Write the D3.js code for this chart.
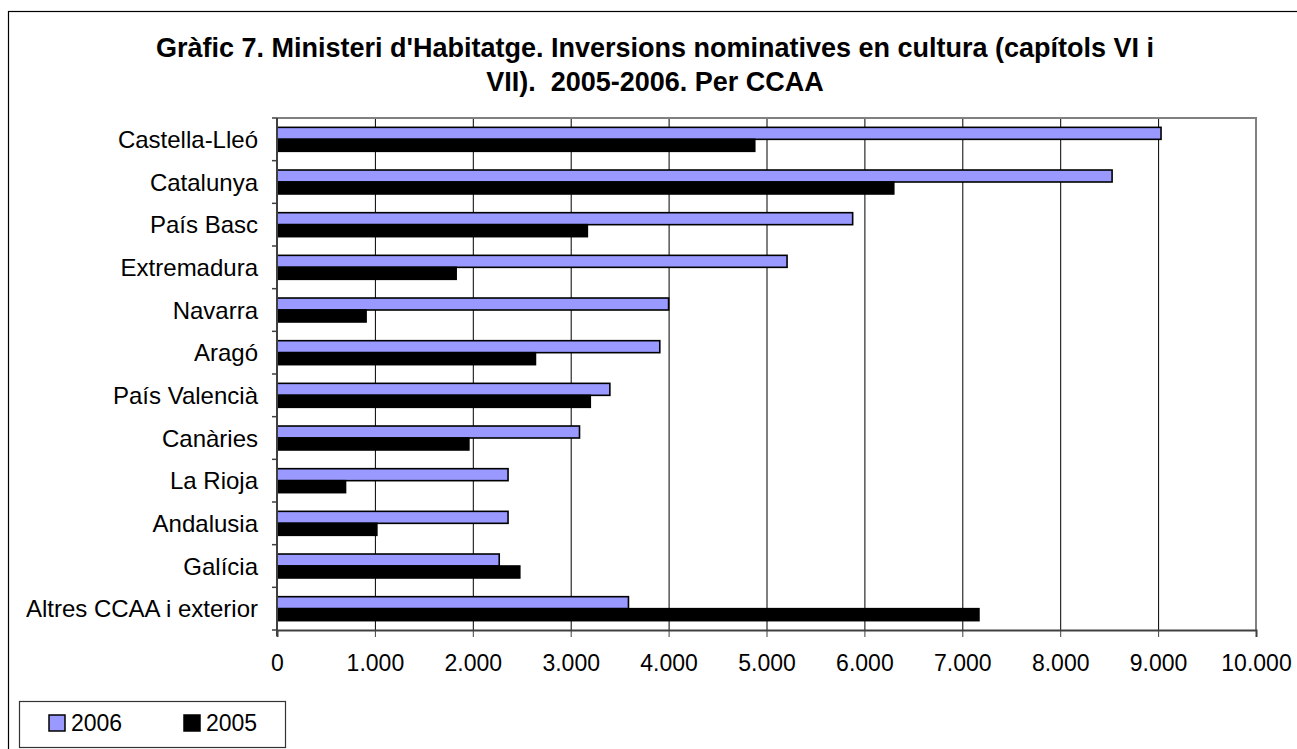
<!DOCTYPE html>
<html>
<head>
<meta charset="utf-8">
<script src="https://cdn.jsdelivr.net/npm/d3@7"></script>
<style>
  html, body { margin: 0; padding: 0; background: #fff; }
  svg { display: block; }
  text { font-family: "Liberation Sans", Arial, sans-serif; fill: #000; }
</style>
</head>
<body>
<svg id="chart" width="1297" height="749"></svg>
<script>
const categories = ["Castella-Lleó", "Catalunya", "País Basc", "Extremadura", "Navarra", "Aragó",
  "País Valencià", "Canàries", "La Rioja", "Andalusia", "Galícia", "Altres CCAA i exterior"];
const series = ["2006", "2005"];
const values2006 = [9030, 8530, 5880, 5210, 4000, 3910, 3400, 3090, 2360, 2360, 2270, 3590];
const values2005 = [4880, 6300, 3170, 1830, 910, 2640, 3200, 1960, 700, 1020, 2480, 7170];
const xTicks = [0, 1000, 2000, 3000, 4000, 5000, 6000, 7000, 8000, 9000, 10000];
const titleLines = ["Gràfic 7. Ministeri d'Habitatge. Inversions nominatives en cultura (capítols VI i",
  "VII).  2005-2006. Per CCAA"];
const colors = { "2006": "#9999FF", "2005": "#000000" };

const svg = d3.select("#chart");
const plot = { left: 277, right: 1256, top: 118, bottom: 630 };

// outer border
svg.append("rect").attr("x", 8.5).attr("y", 11.5).attr("width", 1300).attr("height", 760)
  .attr("fill", "none").attr("stroke", "#000").attr("stroke-width", 1.2);

// title
svg.append("g").selectAll("text").data(titleLines).join("text")
  .attr("x", 655).attr("y", (d, i) => 57 + i * 34)
  .attr("text-anchor", "middle").attr("font-weight", "bold").attr("font-size", 27)
  .style("white-space", "pre")
  .text(d => d);

const x = d3.scaleLinear().domain([0, 10000]).range([plot.left, plot.right]);
const y = d3.scaleBand().domain(categories).range([plot.top, plot.bottom]).padding(0);
const yInner = d3.scaleBand().domain(series).range([0, y.bandwidth()]).paddingInner(0).paddingOuter(0.78);

// gridlines
svg.append("g").selectAll("line").data(xTicks.slice(1, -1)).join("line")
  .attr("x1", d => x(d) + 0.5).attr("x2", d => x(d) + 0.5)
  .attr("y1", plot.top).attr("y2", plot.bottom)
  .attr("stroke", "#000").attr("stroke-width", 1);

// plot frame top & right (gray)
svg.append("path")
  .attr("d", `M${plot.left},${plot.top} H${plot.right} V${plot.bottom}`)
  .attr("fill", "none").attr("stroke", "#808080").attr("stroke-width", 2);

// bars
const rows = categories.map((c, i) => ({ cat: c, vals: [
  { s: "2006", v: values2006[i] }, { s: "2005", v: values2005[i] }] }));
const g = svg.append("g");
rows.forEach(r => {
  g.selectAll(null).data(r.vals).join("rect")
    .attr("x", x(0))
    .attr("y", d => y(r.cat) + yInner(d.s))
    .attr("width", d => x(d.v) - x(0))
    .attr("height", yInner.bandwidth())
    .attr("fill", d => colors[d.s])
    .attr("stroke", "#000").attr("stroke-width", 1.6);
});

// x axis
const xAxis = d3.axisBottom(x).tickValues(xTicks).tickSize(7).tickPadding(18)
  .tickFormat(d => d3.format(",")(d).replace(/,/g, "."));
const xg = svg.append("g").attr("transform", `translate(0,${plot.bottom})`).call(xAxis);
xg.select(".domain").attr("stroke", "#404040").attr("stroke-width", 2);
xg.selectAll(".tick line").attr("stroke", "#404040");
xg.selectAll(".tick text").attr("font-size", 23).attr("font-family", "Liberation Sans, Arial, sans-serif");

// y axis (ticks at band boundaries)
const yg = svg.append("g");
yg.append("line").attr("x1", plot.left).attr("x2", plot.left).attr("y1", plot.top).attr("y2", plot.bottom + 6)
  .attr("stroke", "#404040").attr("stroke-width", 2);
const bounds = categories.map(c => y(c)).concat([plot.bottom]);
yg.selectAll("line.tk").data(bounds).join("line").attr("class", "tk")
  .attr("x1", plot.left - 5).attr("x2", plot.left)
  .attr("y1", d => d).attr("y2", d => d)
  .attr("stroke", "#404040").attr("stroke-width", 1.5);
yg.selectAll("text").data(categories).join("text")
  .attr("x", 258).attr("y", d => y(d) + y.bandwidth() / 2)
  .attr("dy", "0.36em").attr("text-anchor", "end").attr("font-size", 24)
  .text(d => d);

// legend
const lg = svg.append("g");
lg.append("rect").attr("x", 19.5).attr("y", 701.5).attr("width", 266).attr("height", 46)
  .attr("fill", "#fff").attr("stroke", "#333").attr("stroke-width", 1.2);
const legendItems = [{ s: "2006", x: 49 }, { s: "2005", x: 184 }];
lg.selectAll("rect.sw").data(legendItems).join("rect").attr("class", "sw")
  .attr("x", d => d.x).attr("y", 715).attr("width", 16).attr("height", 16)
  .attr("fill", d => colors[d.s]).attr("stroke", "#000").attr("stroke-width", 1.5);
lg.selectAll("text").data(legendItems).join("text")
  .attr("x", d => d.x + 22).attr("y", 731).attr("font-size", 23)
  .text(d => d.s);
</script>
</body>
</html>
